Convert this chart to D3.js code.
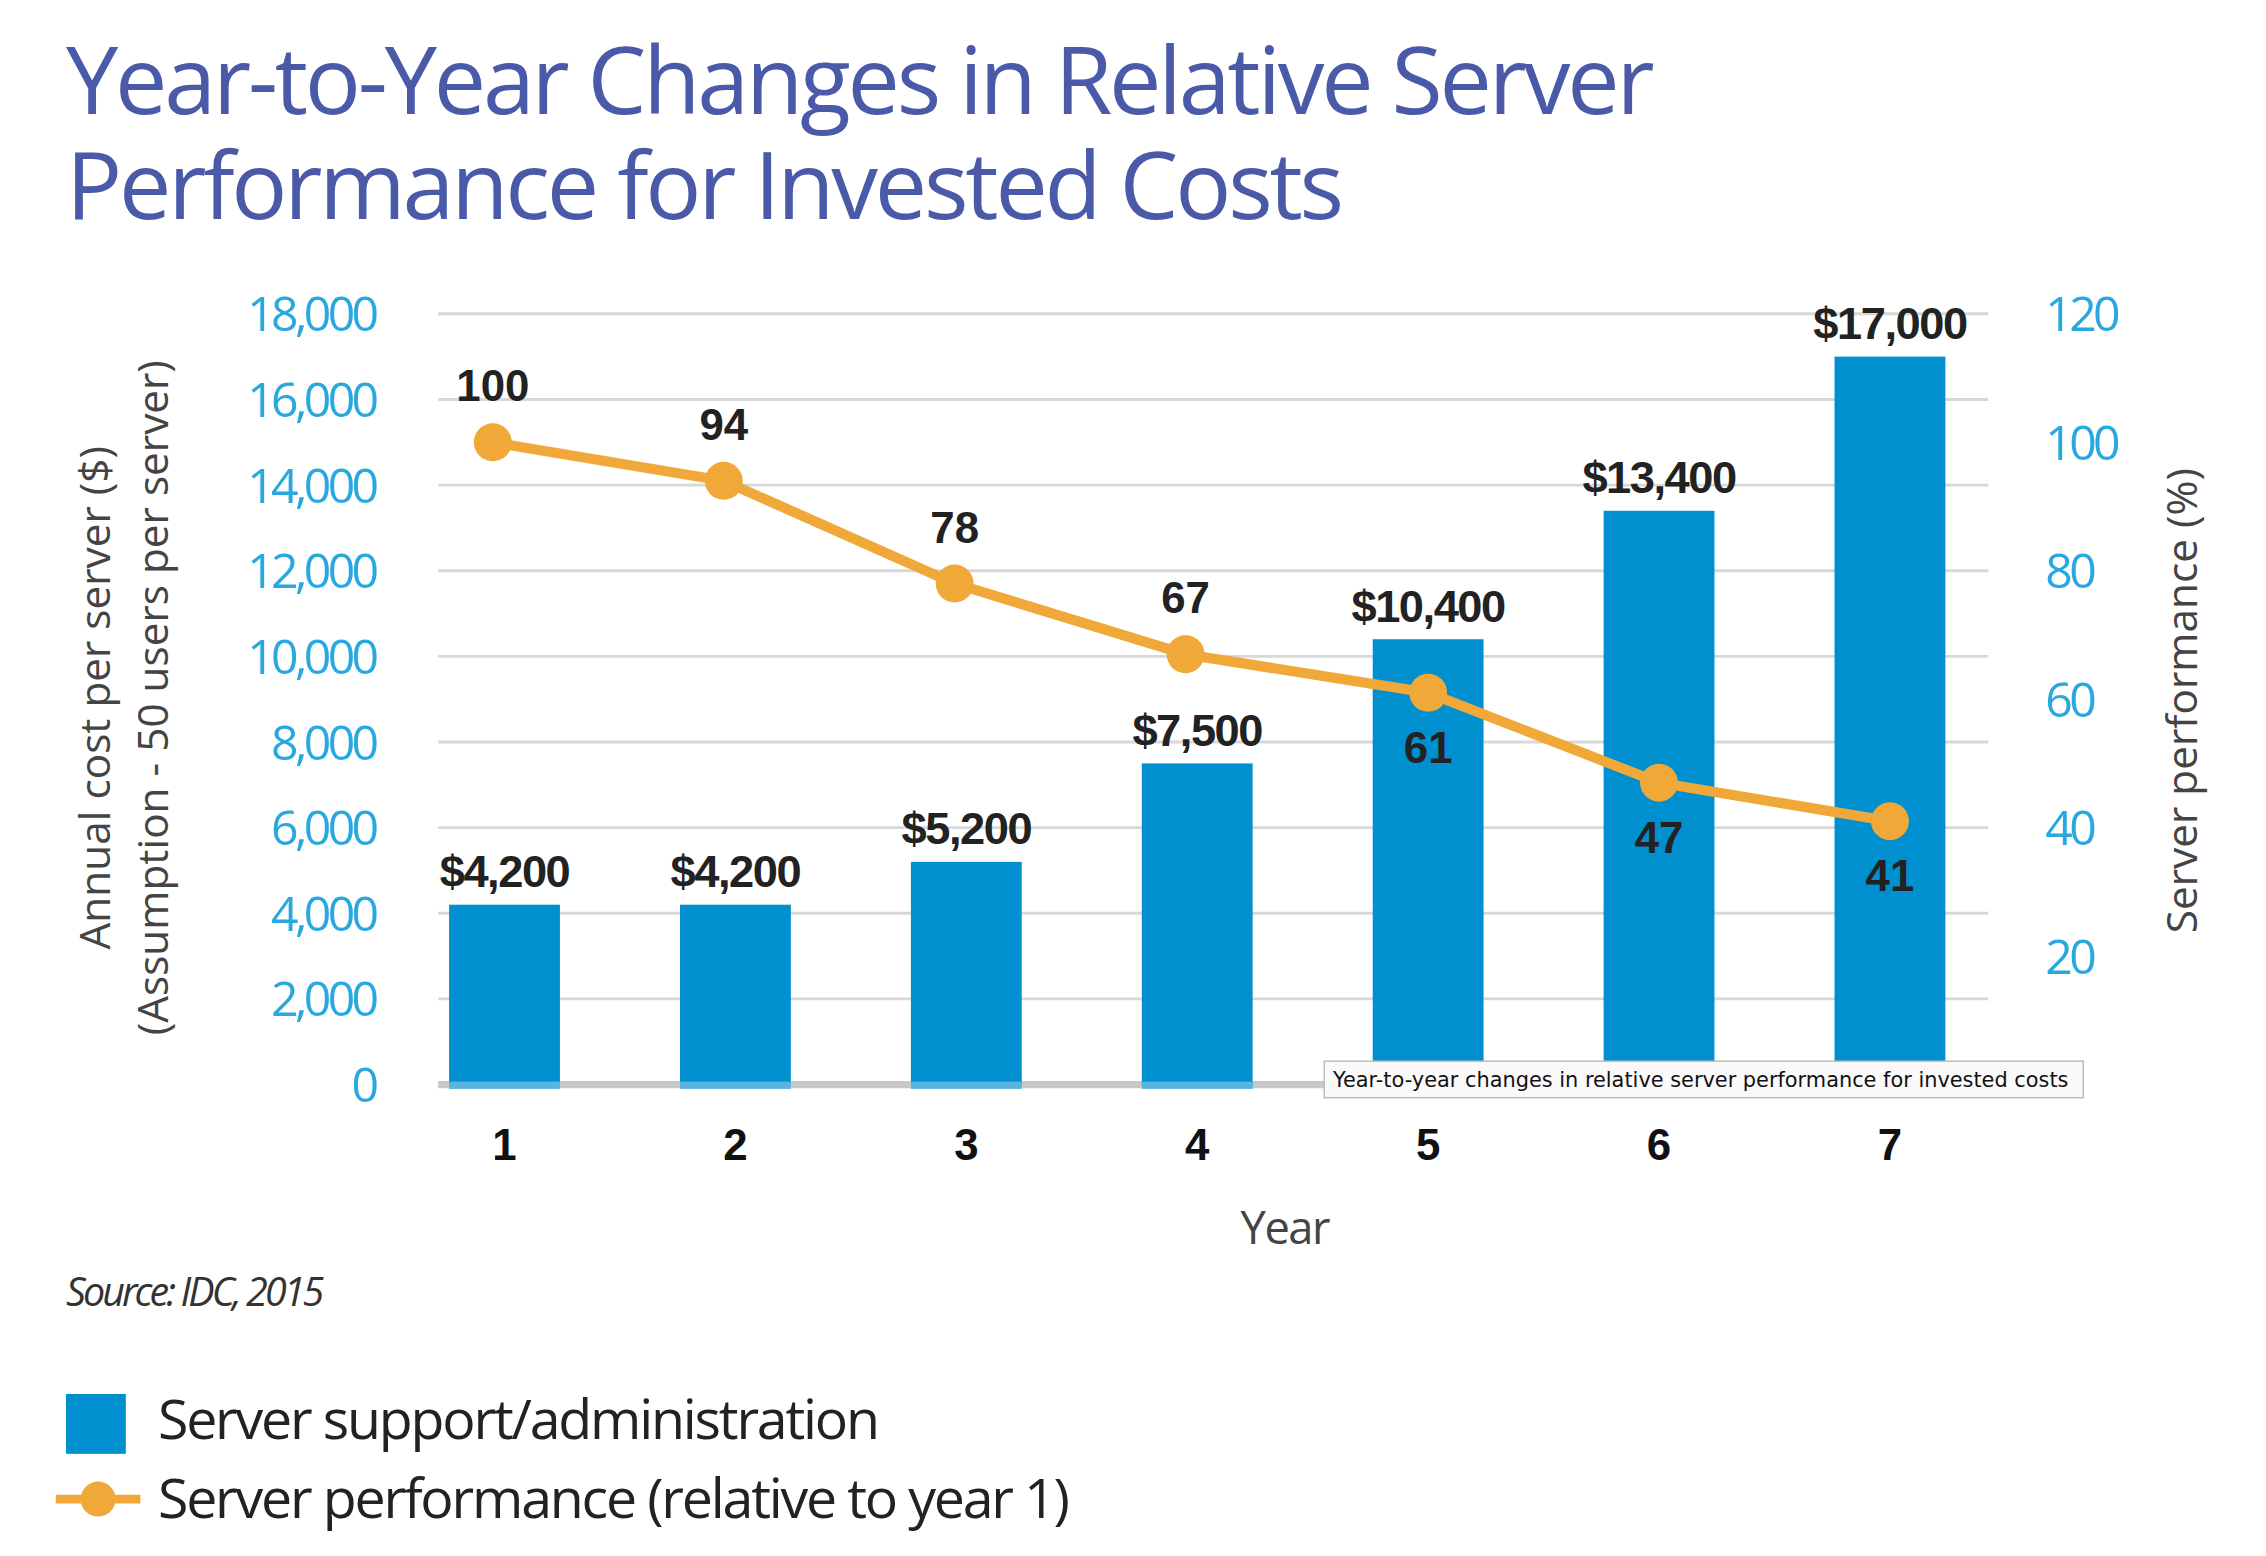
<!DOCTYPE html>
<html><head><meta charset="utf-8">
<script src="https://cdn.jsdelivr.net/npm/d3@7"></script>
<style>body{margin:0;background:#fff}svg{display:block}</style>
</head><body>
<script>
const years = ["1","2","3","4","5","6","7"];
const costs = [4200,4200,5200,7500,10400,13400,17000];
const costLabels = ["$4,200","$4,200","$5,200","$7,500","$10,400","$13,400","$17,000"];
const perf = [100,94,78,67,61,47,41];
const perfLabelBelow = [false,false,false,false,true,true,true];
const leftTicks = [0,2000,4000,6000,8000,10000,12000,14000,16000,18000];
const rightTicks = [0,20,40,60,80,100,120];

const W=1552,H=1066;
const svg=d3.select("body").append("svg").attr("width",2266).attr("height",1556).attr("viewBox",`0 0 ${W} ${H}`);
const blue="#0090d0", orange="#f0a838", tick="#29a8e0", narrow="'Liberation Sans Narrow','Arial Narrow',sans-serif";
const x=d3.scaleBand().domain(years).range([260,1380]).paddingInner(0.52).paddingOuter(0.3);
const yL=d3.scaleLinear().domain([0,18000]).range([743,215]);
const yR=d3.scaleLinear().domain([0,120]).range([743,215]);

svg.append("text").attr("x",45).attr("y",78).attr("font-family","'Open Sans',sans-serif").attr("font-size",64).attr("fill","#4a5aa8").attr("letter-spacing",-2.2).text("Year-to-Year Changes in Relative Server");
svg.append("text").attr("x",45).attr("y",150).attr("font-family","'Open Sans',sans-serif").attr("font-size",64).attr("fill","#4a5aa8").attr("letter-spacing",-2.2).text("Performance for Invested Costs");

svg.append("g").selectAll("line").data(leftTicks.slice(1)).join("line")
 .attr("x1",300).attr("x2",1362).attr("y1",d=>yL(d)).attr("y2",d=>yL(d)).attr("stroke","#d8d8d8").attr("stroke-width",2);
svg.append("line").attr("x1",300).attr("x2",1362).attr("y1",yL(0)).attr("y2",yL(0)).attr("stroke","#c8c8c8").attr("stroke-width",5);

const la=svg.append("g").attr("transform","translate(260,0)").call(d3.axisLeft(yL).tickValues(leftTicks).tickSize(0).tickFormat(d3.format(",")));
la.select(".domain").remove();
la.selectAll("text").attr("font-family","'Open Sans',sans-serif").attr("font-size",33).attr("fill",tick).attr("letter-spacing",-2.5).attr("dy","0.35em");
const ra=svg.append("g").attr("transform","translate(1398,0)").call(d3.axisRight(yR).tickValues(rightTicks).tickSize(0).tickFormat(d=>d===0?"":d));
ra.select(".domain").remove();
ra.selectAll("text").attr("font-family","'Open Sans',sans-serif").attr("font-size",33).attr("fill",tick).attr("letter-spacing",-2.5).attr("dy","0.35em");
const xa=svg.append("g").attr("transform","translate(0,762)").call(d3.axisBottom(x).tickSize(0));
xa.select(".domain").remove();
xa.selectAll("text").attr("font-family","Arial,'Liberation Sans',sans-serif").attr("font-weight","bold").attr("font-size",30).attr("fill","#111").attr("dy","1em");

svg.append("g").selectAll("rect").data(costs).join("rect")
 .attr("x",(d,i)=>x(years[i])).attr("width",x.bandwidth()).attr("y",d=>yL(d)).attr("height",d=>yL(0)-yL(d)).attr("fill",blue);
svg.append("g").selectAll("rect").data(costs).join("rect")
 .attr("x",(d,i)=>x(years[i])).attr("width",x.bandwidth()).attr("y",yL(0)-2).attr("height",5).attr("fill","#5ab4e0");
svg.append("g").selectAll("text").data(costs).join("text")
 .attr("x",(d,i)=>x(years[i])+x.bandwidth()/2).attr("y",d=>yL(d)-12).attr("text-anchor","middle")
 .attr("font-family",narrow).attr("font-weight","bold").attr("font-size",31).attr("letter-spacing",-1).attr("fill","#222").text((d,i)=>costLabels[i]);

const px=(d,i)=>x(years[i])+x.bandwidth()/2-(i<4?8:0);
svg.append("path").datum(perf).attr("d",d3.line().x(px).y(d=>yR(d))).attr("fill","none").attr("stroke",orange).attr("stroke-width",7);
svg.append("g").selectAll("circle").data(perf).join("circle").attr("cx",px).attr("cy",d=>yR(d)).attr("r",13).attr("fill",orange);
svg.append("g").selectAll("text").data(perf).join("text")
 .attr("x",px).attr("y",(d,i)=>perfLabelBelow[i]?yR(d)+48:yR(d)-28).attr("text-anchor","middle")
 .attr("font-family",narrow).attr("font-weight","bold").attr("font-size",30).attr("fill","#222").text(d=>d);

svg.append("text").attr("transform","translate(75,478) rotate(-90)").attr("text-anchor","middle").attr("font-family","'Open Sans',sans-serif").attr("font-size",29).attr("fill","#444").text("Annual cost per server ($)");
svg.append("text").attr("transform","translate(115,478) rotate(-90)").attr("text-anchor","middle").attr("font-family","'Open Sans',sans-serif").attr("font-size",29).attr("fill","#444").text("(Assumption - 50 users per server)");
svg.append("text").attr("transform","translate(1505,480) rotate(-90)").attr("text-anchor","middle").attr("font-family","'Open Sans',sans-serif").attr("font-size",29).attr("fill","#444").text("Server performance (%)");
svg.append("text").attr("x",880).attr("y",852).attr("text-anchor","middle").attr("font-family","'Open Sans',sans-serif").attr("font-size",31).attr("fill","#444").attr("letter-spacing",-1).text("Year");
svg.append("text").attr("x",45).attr("y",895).attr("font-family","'Open Sans',sans-serif").attr("font-style","italic").attr("font-size",27).attr("fill","#333").attr("letter-spacing",-2).text("Source: IDC, 2015");

svg.append("rect").attr("x",907).attr("y",727).attr("width",520).attr("height",25).attr("fill","#fafafa").attr("stroke","#bbb");
svg.append("text").attr("x",913).attr("y",745).attr("font-family","'DejaVu Sans',sans-serif").attr("font-size",14.3).attr("fill","#111").text("Year-to-year changes in relative server performance for invested costs");

svg.append("rect").attr("x",45).attr("y",955).attr("width",41).attr("height",41).attr("fill",blue);
svg.append("text").attr("x",108).attr("y",986).attr("font-family","'Open Sans',sans-serif").attr("font-size",38).attr("fill","#222").attr("letter-spacing",-1.5).text("Server support/administration");
svg.append("line").attr("x1",38).attr("x2",96).attr("y1",1027).attr("y2",1027).attr("stroke",orange).attr("stroke-width",6);
svg.append("circle").attr("cx",67).attr("cy",1027).attr("r",12).attr("fill",orange);
svg.append("text").attr("x",108).attr("y",1040).attr("font-family","'Open Sans',sans-serif").attr("font-size",38).attr("fill","#222").attr("letter-spacing",-1.5).text("Server performance (relative to year 1)");
</script>
</body></html>
